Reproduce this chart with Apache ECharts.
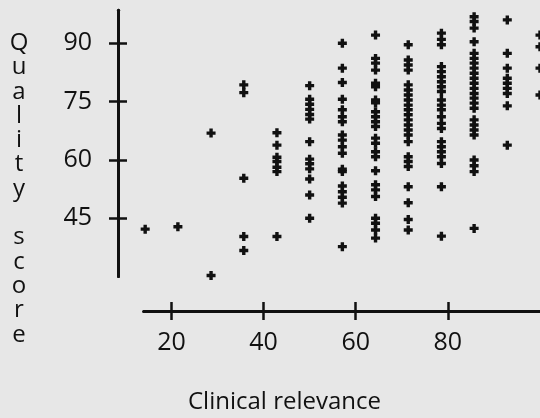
<!DOCTYPE html>
<html>
<head>
<meta charset="utf-8">
<script src="https://cdn.jsdelivr.net/npm/echarts@6/dist/echarts.min.js"></script>
<style>
  html, body { margin: 0; padding: 0; background: #e7e7e7; }
  #chart { width: 540px; height: 418px; }
</style>
</head>
<body>
<div id="chart"></div>
<script>
// clinical relevance columns (x)
var relevance = [14.3, 21.4, 28.6, 35.7, 42.9, 50.0, 57.1, 64.3, 71.4, 78.6, 85.7, 92.9, 100];
// quality scores, top to bottom
var q14 = [42.2];
var q21 = [42.8];
var q29 = [66.9, 30.3];
var q36 = [79.3, 77.3, 55.3, 40.3, 36.7];
var q43 = [67.0, 63.8, 60.7, 59.6, 58.1, 57.0, 40.3];
var q50 = [79.1, 75.6, 74.3, 73.0, 71.7, 70.5, 64.7, 60.2, 59.0, 57.7, 55.1, 51.0, 45.0];
var q57 = [90.0, 83.6, 79.9, 75.6, 72.9, 71.1, 69.8, 66.4, 65.1, 63.4, 61.7, 57.6, 57.0, 53.3, 51.8, 50.4, 48.9, 37.7];
var q64 = [92.1, 86.1, 84.9, 83.1, 79.7, 78.8, 75.4, 74.7, 72.4, 71.1, 69.8, 68.6, 65.6, 64.3, 62.1, 60.8, 57.2, 53.6, 52.3, 50.6, 45.0, 43.7, 42.0, 39.9];
var q71 = [89.6, 85.7, 84.4, 83.1, 79.3, 78.0, 76.7, 75.4, 74.1, 72.9, 71.6, 70.3, 69.0, 67.7, 66.4, 64.7, 60.8, 59.6, 58.3, 53.1, 49.0, 44.7, 42.0];
var q79 = [92.6, 91.0, 89.6, 84.0, 82.7, 81.4, 80.1, 78.8, 77.6, 75.4, 74.1, 72.9, 71.1, 69.4, 68.1, 64.7, 63.4, 62.1, 60.8, 59.1, 53.1, 40.4];
var q86 = [96.8, 95.6, 93.9, 90.4, 87.4, 86.1, 84.9, 83.6, 82.3, 81.0, 79.7, 78.4, 77.1, 75.9, 74.6, 73.3, 70.3, 69.0, 67.7, 66.4, 60.0, 58.5, 57.0, 42.4];
var q93 = [96.0, 87.4, 83.6, 81.0, 79.7, 78.4, 77.1, 73.9, 63.8];
var q100 = [92.1, 89.1, 83.6, 76.7];
var qualityColumns = [q14, q21, q29, q36, q43, q50, q57, q64, q71, q79, q86, q93, q100];
// tick labels
var xTicks = [20, 40, 60, 80];
var yTicks = [45, 60, 75, 90];

var points = [];
relevance.forEach(function (x, i) {
  qualityColumns[i].forEach(function (y) {
    points.push([x, y]);
  });
});

var FONT = "Open Sans";
var NUM_FONT = "'Liberation Sans Narrow', 'Open Sans'";
var INK = "#111";
var plus = "path://M2.8,0h3.4v2.8h2.8v3.4h-2.8v2.8h-3.4v-2.8h-2.8v-3.4h2.8z";

function xAx(inside, withLabels) {
  return {
    type: "value", position: "bottom", min: 14, max: 100, offset: 34.4,
    axisLine: { show: true, lineStyle: { color: INK, width: 3 } },
    axisTick: { show: true, inside: inside, length: 9, customValues: xTicks, lineStyle: { color: INK, width: 2.5 } },
    axisLabel: { show: withLabels, customValues: xTicks, margin: 19, color: INK, fontFamily: NUM_FONT, fontSize: 25 },
    splitLine: { show: false }
  };
}
function yAx(inside, withLabels) {
  return {
    type: "value", position: "left", min: 30, max: 98.5, offset: 25.8,
    axisLine: { show: true, lineStyle: { color: INK, width: 3 } },
    axisTick: { show: true, inside: inside, length: 9, customValues: yTicks, lineStyle: { color: INK, width: 2.5 } },
    axisLabel: { show: withLabels, customValues: yTicks, margin: 26, color: INK, fontFamily: NUM_FONT, fontSize: 25 },
    splitLine: { show: false }
  };
}

var chart = echarts.init(document.getElementById("chart"));
chart.setOption({
  backgroundColor: "#e7e7e7",
  animation: false,
  grid: { left: 143.8, top: 10.2, width: 399.9, height: 266.4 },
  xAxis: [xAx(false, true), xAx(true, false)],
  yAxis: [yAx(false, true), yAx(true, false)],
  graphic: [
    {
      type: "text", left: 188, top: 390,
      style: { text: "Clinical relevance", fill: INK, font: "24px '" + FONT + "'" }
    },
    {
      type: "text", x: 19, y: 31,
      style: {
        text: "Q\nu\na\nl\ni\nt\ny\n\ns\nc\no\nr\ne",
        fill: INK, font: "24px '" + FONT + "'", lineHeight: 24.3, align: "center", verticalAlign: "top"
      }
    }
  ],
  series: [{
    type: "scatter",
    data: points,
    clip: false,
    symbol: plus,
    symbolSize: 9,
    itemStyle: { color: INK, opacity: 1 }
  }]
});
</script>
</body>
</html>
